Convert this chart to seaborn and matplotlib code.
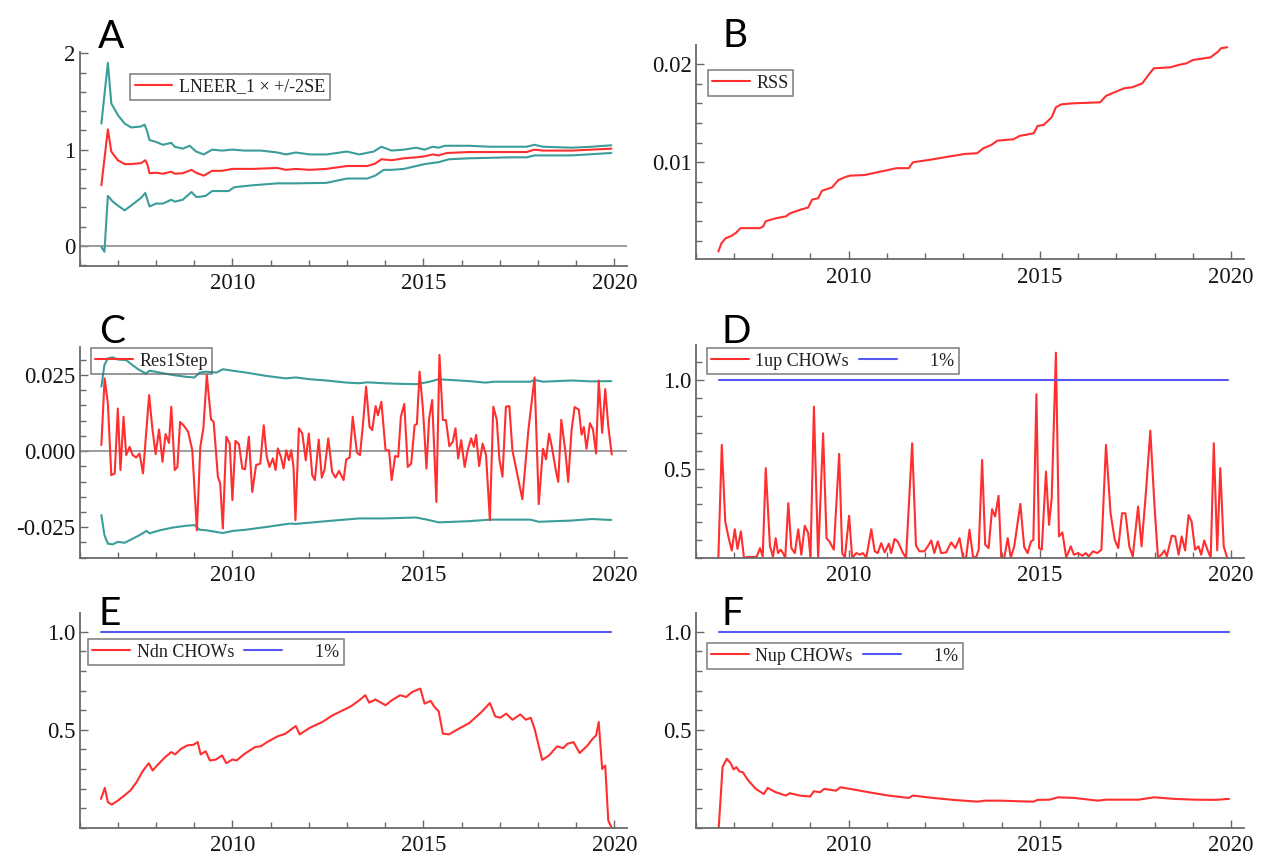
import matplotlib
matplotlib.use("Agg")
import matplotlib.pyplot as plt
from matplotlib.ticker import FixedLocator, MultipleLocator, FuncFormatter
import seaborn as sns

# ---------------------------------------------------------------- data
# (A) recursive coefficient of LNEER_1 with +/- 2 standard errors
a_coef = [(2006.57, 0.63), (2006.74, 1.21), (2006.83, 0.98), (2007.0, 0.89), (2007.18, 0.85),
          (2007.35, 0.85), (2007.61, 0.86), (2007.72, 0.89), (2007.78, 0.84), (2007.83, 0.755),
          (2008.0, 0.76), (2008.18, 0.75), (2008.4, 0.77), (2008.49, 0.75), (2008.7, 0.755),
          (2008.93, 0.79), (2009.05, 0.76), (2009.25, 0.73), (2009.47, 0.78), (2009.73, 0.78),
          (2010.0, 0.80), (2010.53, 0.80), (2011.18, 0.81), (2011.4, 0.79), (2011.66, 0.80),
          (2012.03, 0.79), (2012.46, 0.80), (2013.0, 0.83), (2013.53, 0.83), (2013.74, 0.855),
          (2013.9, 0.90), (2014.17, 0.89), (2014.49, 0.91), (2014.81, 0.92), (2015.03, 0.93),
          (2015.24, 0.95), (2015.4, 0.94), (2015.61, 0.965), (2016.2, 0.975), (2017.27, 0.975),
          (2017.7, 0.975), (2017.91, 1.0), (2018.13, 0.99), (2018.88, 0.99), (2019.92, 1.01)]
a_upper = [(2006.57, 1.27), (2006.74, 1.90), (2006.83, 1.48), (2007.0, 1.36), (2007.18, 1.27),
           (2007.35, 1.23), (2007.61, 1.24), (2007.7, 1.26), (2007.76, 1.20), (2007.83, 1.10),
           (2008.0, 1.08), (2008.18, 1.05), (2008.4, 1.07), (2008.49, 1.03), (2008.7, 1.01),
           (2008.88, 1.04), (2009.05, 0.98), (2009.25, 0.95), (2009.47, 1.00), (2009.73, 0.99),
           (2010.0, 1.00), (2010.32, 0.99), (2010.75, 0.99), (2011.18, 0.97), (2011.4, 0.95),
           (2011.66, 0.97), (2012.03, 0.95), (2012.46, 0.95), (2013.0, 0.98), (2013.32, 0.95),
           (2013.7, 0.98), (2013.9, 1.03), (2014.17, 0.99), (2014.49, 1.00), (2014.81, 1.02),
           (2015.03, 1.00), (2015.24, 1.03), (2015.4, 1.02), (2015.56, 1.04), (2016.2, 1.04),
           (2016.74, 1.03), (2017.27, 1.03), (2017.7, 1.03), (2017.91, 1.05), (2018.13, 1.03),
           (2018.88, 1.02), (2019.41, 1.03), (2019.92, 1.045)]
a_lower = [(2006.57, -0.01), (2006.65, -0.06), (2006.74, 0.52), (2006.87, 0.46), (2007.0, 0.42),
           (2007.18, 0.37), (2007.35, 0.42), (2007.61, 0.50), (2007.72, 0.55), (2007.83, 0.41),
           (2008.0, 0.44), (2008.18, 0.44), (2008.4, 0.48), (2008.49, 0.46), (2008.7, 0.48),
           (2008.93, 0.56), (2009.05, 0.51), (2009.14, 0.51), (2009.3, 0.52), (2009.47, 0.57),
           (2009.9, 0.57), (2010.05, 0.61), (2010.53, 0.63), (2011.18, 0.65), (2011.66, 0.65),
           (2012.46, 0.655), (2013.0, 0.70), (2013.53, 0.70), (2013.74, 0.73), (2013.96, 0.79),
           (2014.17, 0.79), (2014.49, 0.80), (2015.03, 0.85), (2015.4, 0.87), (2015.67, 0.90),
           (2016.2, 0.91), (2017.27, 0.92), (2017.7, 0.92), (2017.91, 0.94), (2018.88, 0.94),
           (2019.92, 0.965)]

# (B) recursive residual sum of squares
b_rss = [(2006.59, 0.00092), (2006.67, 0.00176), (2006.78, 0.00227), (2006.93, 0.0025),
         (2007.06, 0.00285), (2007.17, 0.0033), (2007.36, 0.0033), (2007.67, 0.0033),
         (2007.76, 0.00346), (2007.83, 0.0040), (2008.09, 0.0043), (2008.36, 0.0045),
         (2008.46, 0.0048), (2008.72, 0.00515), (2008.94, 0.0054), (2009.04, 0.0062),
         (2009.2, 0.00634), (2009.3, 0.0071), (2009.57, 0.00746), (2009.73, 0.0082),
         (2009.94, 0.00854), (2010.04, 0.00864), (2010.41, 0.0087), (2010.83, 0.00905),
         (2011.25, 0.0094), (2011.57, 0.0094), (2011.68, 0.0100), (2012.1, 0.01024),
         (2012.62, 0.01058), (2013.05, 0.01085), (2013.36, 0.01092), (2013.52, 0.01142),
         (2013.73, 0.01176), (2013.89, 0.0122), (2014.31, 0.01234), (2014.47, 0.01268),
         (2014.84, 0.01295), (2014.94, 0.0137), (2015.1, 0.0138), (2015.31, 0.01458),
         (2015.42, 0.0156), (2015.57, 0.0159), (2015.89, 0.0160), (2016.58, 0.0161),
         (2016.73, 0.01675), (2016.94, 0.0171), (2017.21, 0.01753), (2017.42, 0.01763),
         (2017.68, 0.01803), (2017.84, 0.01888), (2017.98, 0.01956), (2018.42, 0.01966),
         (2018.63, 0.0199), (2018.84, 0.02007), (2019.0, 0.0204), (2019.47, 0.02068),
         (2019.58, 0.02102), (2019.66, 0.02125), (2019.74, 0.0216), (2019.9, 0.0217)]

# (C) one-step residuals with +/- 2 standard error bands
c_res = [(2006.57, 0.002), (2006.655, 0.0239), (2006.74, 0.0157), (2006.83, -0.0079),
         (2006.92, -0.0073), (2007.0, 0.014), (2007.07, -0.0062), (2007.15, 0.0113),
         (2007.22, -0.0013), (2007.31, 0.0014), (2007.39, -0.0013), (2007.48, -0.0021),
         (2007.57, -0.0008), (2007.66, -0.0073), (2007.82, 0.0184), (2007.9, 0.008),
         (2007.99, -0.001), (2008.08, 0.0071), (2008.17, -0.0035), (2008.25, 0.0056),
         (2008.34, 0.0027), (2008.4, 0.0146), (2008.49, -0.0062), (2008.56, -0.0052),
         (2008.63, 0.0096), (2008.72, 0.0085), (2008.84, 0.0064), (2008.95, 0.0003),
         (2009.07, -0.026), (2009.16, 0.0014), (2009.24, 0.0075), (2009.33, 0.025),
         (2009.44, 0.0104), (2009.51, 0.0096), (2009.62, -0.0084), (2009.68, -0.0106),
         (2009.75, -0.0254), (2009.84, 0.0047), (2009.93, 0.0025), (2010.0, -0.0161),
         (2010.08, 0.0034), (2010.17, 0.0023), (2010.26, -0.0057), (2010.33, -0.006),
         (2010.43, 0.0047), (2010.52, -0.0134), (2010.62, -0.0046), (2010.73, -0.0041),
         (2010.82, 0.0085), (2010.9, -0.0019), (2010.97, -0.0052), (2011.06, -0.0024),
         (2011.13, -0.0062), (2011.19, 0.0009), (2011.27, -0.0019), (2011.34, -0.0057),
         (2011.41, 0.0003), (2011.48, -0.003), (2011.54, 0.0003), (2011.6, -0.0052),
         (2011.65, -0.0227), (2011.74, 0.0075), (2011.83, 0.0058), (2011.92, -0.003),
         (2012.0, 0.0058), (2012.09, -0.0079), (2012.16, -0.0095), (2012.26, 0.0038),
         (2012.34, -0.0087), (2012.41, -0.0062), (2012.51, 0.0042), (2012.61, -0.0068),
         (2012.7, -0.0087), (2012.79, -0.0065), (2012.91, -0.0095), (2012.98, -0.0027),
         (2013.07, -0.0021), (2013.15, 0.0113), (2013.26, -0.0005), (2013.34, -0.0013),
         (2013.42, 0.0091), (2013.5, 0.0212), (2013.59, 0.008), (2013.66, 0.0069),
         (2013.75, 0.0148), (2013.81, 0.0118), (2013.9, 0.0162), (2014.01, 0.0003),
         (2014.1, 0.0003), (2014.17, -0.0095), (2014.26, -0.0016), (2014.34, -0.0019),
         (2014.41, 0.0113), (2014.5, 0.0155), (2014.59, -0.0052), (2014.68, -0.0041),
         (2014.77, 0.0085), (2014.83, 0.0089), (2014.9, 0.0261), (2014.99, 0.0135),
         (2015.08, -0.0057), (2015.15, 0.0107), (2015.23, 0.0168), (2015.34, -0.0167),
         (2015.42, 0.0316), (2015.51, 0.0102), (2015.59, 0.0102), (2015.68, 0.0016),
         (2015.77, 0.0031), (2015.84, 0.0075), (2015.91, -0.0024), (2015.99, 0.0036),
         (2016.08, -0.0052), (2016.16, 0.0003), (2016.25, 0.0042), (2016.32, 0.0014),
         (2016.38, 0.0053), (2016.46, -0.0049), (2016.55, 0.0025), (2016.64, -0.0013),
         (2016.74, -0.0227), (2016.83, 0.0146), (2016.92, 0.0104), (2016.99, -0.0027),
         (2017.07, -0.0084), (2017.16, 0.0146), (2017.25, 0.0148), (2017.33, 0.0003),
         (2017.59, -0.0158), (2017.75, 0.0071), (2017.91, 0.0242), (2018.02, -0.0174),
         (2018.13, 0.0008), (2018.21, -0.0027), (2018.29, 0.0057), (2018.36, 0.0016),
         (2018.47, -0.0065), (2018.53, -0.0101), (2018.61, 0.0103), (2018.72, -0.0005),
         (2018.79, -0.0101), (2018.88, 0.0071), (2018.96, 0.0145), (2019.07, 0.0136),
         (2019.14, 0.0054), (2019.2, 0.0079), (2019.27, 0.0008), (2019.36, 0.0092),
         (2019.44, 0.0071), (2019.52, -0.0008), (2019.59, 0.0232), (2019.68, 0.006),
         (2019.76, 0.0204), (2019.84, 0.0082), (2019.93, -0.0011)]
c_upper = [(2006.57, 0.0212), (2006.65, 0.0283), (2006.74, 0.0305), (2006.87, 0.0308),
           (2007.0, 0.0301), (2007.22, 0.0299), (2007.35, 0.0286), (2007.53, 0.0269),
           (2007.73, 0.0255), (2007.83, 0.0264), (2008.1, 0.0258), (2008.44, 0.025),
           (2008.79, 0.0244), (2009.01, 0.0242), (2009.14, 0.0258), (2009.32, 0.0261),
           (2009.58, 0.0258), (2009.75, 0.0269), (2010.01, 0.0264), (2010.36, 0.0258),
           (2010.89, 0.0247), (2011.39, 0.0239), (2011.66, 0.0242), (2012.03, 0.0236),
           (2012.46, 0.0232), (2013.0, 0.0225), (2013.32, 0.0223), (2013.53, 0.0226),
           (2013.96, 0.0223), (2014.39, 0.0221), (2014.81, 0.022), (2015.13, 0.0227),
           (2015.4, 0.0236), (2015.67, 0.0234), (2016.2, 0.023), (2016.63, 0.0225),
           (2016.84, 0.0228), (2017.8, 0.0228), (2017.91, 0.0234), (2018.13, 0.0228),
           (2018.88, 0.0232), (2019.41, 0.0229), (2019.92, 0.023)]
c_lower = [(2006.57, -0.021), (2006.65, -0.0276), (2006.74, -0.0304), (2006.87, -0.0306),
           (2007.0, -0.0298), (2007.18, -0.0301), (2007.35, -0.029), (2007.57, -0.0276),
           (2007.75, -0.0262), (2007.83, -0.027), (2008.1, -0.026), (2008.44, -0.0251),
           (2008.79, -0.0245), (2009.01, -0.0243), (2009.14, -0.0258), (2009.32, -0.026),
           (2009.75, -0.0269), (2010.01, -0.0262), (2010.36, -0.0258), (2010.89, -0.0249),
           (2011.5, -0.0238), (2011.66, -0.0239), (2012.46, -0.023), (2013.32, -0.0221),
           (2013.96, -0.0221), (2014.81, -0.0218), (2015.13, -0.0226), (2015.4, -0.0234),
           (2016.2, -0.023), (2016.74, -0.0225), (2017.8, -0.0225), (2018.02, -0.0232),
           (2018.88, -0.0228), (2019.41, -0.0223), (2019.92, -0.0226)]

# (D) 1-step-ahead Chow tests, scaled by their 1% critical value
d_chow = [(2006.59, 0.0), (2006.68, 0.635), (2006.77, 0.204), (2006.85, 0.12), (2006.94, 0.04),
          (2007.02, 0.16), (2007.09, 0.05), (2007.18, 0.148), (2007.26, 0.0), (2007.35, 0.004),
          (2007.46, 0.004), (2007.59, 0.004), (2007.68, 0.054), (2007.75, 0.007), (2007.83, 0.504),
          (2007.94, 0.064), (2008.02, 0.007), (2008.09, 0.11), (2008.15, 0.026), (2008.22, 0.045),
          (2008.28, 0.026), (2008.34, 0.0), (2008.42, 0.307), (2008.5, 0.054), (2008.59, 0.026),
          (2008.68, 0.16), (2008.76, 0.017), (2008.85, 0.18), (2008.94, 0.139), (2009.0, 0.0),
          (2009.09, 0.85), (2009.2, 0.0), (2009.33, 0.70), (2009.42, 0.11), (2009.5, 0.09),
          (2009.61, 0.045), (2009.75, 0.584), (2009.83, 0.026), (2009.9, 0.0), (2010.01, 0.236),
          (2010.09, 0.0), (2010.2, 0.026), (2010.29, 0.017), (2010.37, 0.026), (2010.46, 0.0),
          (2010.59, 0.16), (2010.68, 0.036), (2010.76, 0.026), (2010.85, 0.082), (2010.94, 0.03),
          (2011.05, 0.079), (2011.11, 0.026), (2011.2, 0.105), (2011.28, 0.092), (2011.42, 0.026),
          (2011.5, 0.0), (2011.66, 0.644), (2011.76, 0.067), (2011.85, 0.036), (2011.98, 0.036),
          (2012.07, 0.064), (2012.16, 0.097), (2012.24, 0.026), (2012.33, 0.092), (2012.42, 0.026),
          (2012.55, 0.03), (2012.68, 0.086), (2012.79, 0.054), (2012.9, 0.11), (2012.99, 0.0),
          (2013.07, 0.0), (2013.16, 0.157), (2013.25, 0.007), (2013.33, 0.0), (2013.4, 0.045),
          (2013.49, 0.55), (2013.57, 0.073), (2013.66, 0.054), (2013.75, 0.273), (2013.83, 0.232),
          (2013.92, 0.348), (2013.99, 0.0), (2014.07, 0.0), (2014.16, 0.11), (2014.24, 0.0),
          (2014.33, 0.064), (2014.49, 0.303), (2014.59, 0.06), (2014.68, 0.026), (2014.77, 0.092),
          (2014.83, 0.1), (2014.91, 0.92), (2014.98, 0.054), (2015.05, 0.045), (2015.16, 0.485),
          (2015.24, 0.185), (2015.31, 0.335), (2015.42, 1.154), (2015.5, 0.12), (2015.59, 0.142),
          (2015.69, 0.0), (2015.81, 0.064), (2015.89, 0.017), (2016.0, 0.026), (2016.11, 0.011),
          (2016.2, 0.026), (2016.28, 0.007), (2016.39, 0.036), (2016.5, 0.026), (2016.61, 0.045),
          (2016.73, 0.635), (2016.85, 0.25), (2016.96, 0.1), (2017.05, 0.054), (2017.15, 0.25),
          (2017.24, 0.25), (2017.34, 0.064), (2017.43, 0.007), (2017.57, 0.288), (2017.66, 0.064),
          (2017.78, 0.382), (2017.89, 0.715), (2018.0, 0.288), (2018.09, 0.0), (2018.18, 0.017),
          (2018.26, 0.041), (2018.32, 0.007), (2018.45, 0.124), (2018.54, 0.12), (2018.63, 0.017),
          (2018.71, 0.12), (2018.8, 0.041), (2018.89, 0.24), (2018.97, 0.204), (2019.06, 0.045),
          (2019.15, 0.064), (2019.22, 0.017), (2019.3, 0.097), (2019.39, 0.041), (2019.47, 0.0),
          (2019.55, 0.644), (2019.64, 0.041), (2019.72, 0.504), (2019.81, 0.064), (2019.9, 0.0)]

# (E) break-point (N-down) Chow tests
e_chow = [(2006.56, 0.147), (2006.66, 0.203), (2006.74, 0.13), (2006.84, 0.118), (2007.0, 0.138),
          (2007.11, 0.155), (2007.22, 0.172), (2007.33, 0.19), (2007.49, 0.232), (2007.65, 0.288),
          (2007.81, 0.329), (2007.91, 0.292), (2008.07, 0.326), (2008.24, 0.36), (2008.4, 0.386),
          (2008.5, 0.374), (2008.66, 0.403), (2008.82, 0.42), (2008.98, 0.423), (2009.09, 0.437),
          (2009.17, 0.374), (2009.3, 0.39), (2009.41, 0.343), (2009.57, 0.348), (2009.73, 0.369),
          (2009.84, 0.329), (2010.0, 0.348), (2010.11, 0.343), (2010.32, 0.377), (2010.59, 0.411),
          (2010.75, 0.416), (2010.91, 0.437), (2011.18, 0.466), (2011.39, 0.48), (2011.66, 0.519),
          (2011.76, 0.476), (2012.03, 0.51), (2012.35, 0.539), (2012.62, 0.573), (2012.89, 0.599),
          (2013.1, 0.619), (2013.32, 0.65), (2013.48, 0.676), (2013.58, 0.638), (2013.74, 0.654),
          (2014.01, 0.625), (2014.17, 0.65), (2014.39, 0.676), (2014.55, 0.667), (2014.71, 0.693),
          (2014.92, 0.71), (2015.03, 0.633), (2015.19, 0.647), (2015.29, 0.616), (2015.4, 0.594),
          (2015.51, 0.48), (2015.67, 0.476), (2015.88, 0.5), (2016.2, 0.534), (2016.52, 0.59),
          (2016.74, 0.636), (2016.88, 0.568), (2017.01, 0.561), (2017.17, 0.582), (2017.33, 0.551),
          (2017.54, 0.578), (2017.68, 0.551), (2017.81, 0.561), (2017.91, 0.505), (2018.11, 0.346),
          (2018.29, 0.369), (2018.5, 0.415), (2018.66, 0.406), (2018.77, 0.428), (2018.93, 0.437),
          (2019.09, 0.381), (2019.3, 0.42), (2019.41, 0.449), (2019.52, 0.471), (2019.59, 0.539),
          (2019.68, 0.3), (2019.76, 0.317), (2019.84, 0.036), (2019.93, 0.0)]

# (F) forecast (N-up) Chow tests
f_chow = [(2006.6, 0.0), (2006.7, 0.309), (2006.81, 0.352), (2006.91, 0.329), (2006.99, 0.297),
          (2007.06, 0.309), (2007.14, 0.287), (2007.23, 0.283), (2007.36, 0.244), (2007.57, 0.198),
          (2007.78, 0.172), (2007.88, 0.203), (2008.09, 0.181), (2008.36, 0.164), (2008.46, 0.176),
          (2008.72, 0.164), (2008.99, 0.159), (2009.09, 0.186), (2009.25, 0.181), (2009.36, 0.198),
          (2009.67, 0.189), (2009.78, 0.206), (2010.04, 0.198), (2010.52, 0.181), (2011.04, 0.164),
          (2011.57, 0.152), (2011.68, 0.164), (2012.2, 0.152), (2012.73, 0.142), (2013.36, 0.133),
          (2013.57, 0.138), (2013.99, 0.138), (2014.42, 0.135), (2014.84, 0.133), (2014.94, 0.142),
          (2015.26, 0.143), (2015.47, 0.155), (2015.89, 0.152), (2016.52, 0.138), (2016.73, 0.143),
          (2017.58, 0.143), (2017.99, 0.155), (2018.52, 0.147), (2019.05, 0.143), (2019.58, 0.142),
          (2019.95, 0.147)]

# 1% critical value line (tests are scaled so that it sits at 1)
crit_d = [(2006.6, 1.0), (2019.92, 1.0)]
crit_e = [(2006.57, 1.0), (2019.92, 1.0)]
crit_f = [(2006.6, 1.0), (2019.95, 1.0)]

x_major = [2010, 2015, 2020]

# ---------------------------------------------------------------- style
RED = "#ff2f2f"
TEAL = "#3b9d99"
BLUE = "#5757f3"
AXC = "#6a6a6a"
LW = 1.5

sns.set_theme(style="white")
plt.rcParams["font.family"] = ["Liberation Serif", "DejaVu Serif"]
plt.rcParams["axes.unicode_minus"] = False

W, H = 1263, 857
fig = plt.figure(figsize=(W / 100, H / 100), dpi=100)


def rect(l, t, r, b):
    return [l / W, 1 - b / H, (r - l) / W, (b - t) / H]


def line(ax, pts, color, label=None):
    xs, ys = zip(*pts)
    sns.lineplot(x=list(xs), y=list(ys), ax=ax, color=color, linewidth=LW,
                 estimator=None, sort=False, legend=False)
    ln = ax.lines[-1]
    if label is not None:
        ln.set_label(label)
    return ln


def style_axes(ax, ylim, yticks, fmt, yminor):
    ax.set_xlim(2006.0, 2020.33)
    ax.set_ylim(*ylim)
    for s in ("top", "right"):
        ax.spines[s].set_visible(False)
    for s in ("left", "bottom"):
        ax.spines[s].set_color(AXC)
        ax.spines[s].set_linewidth(1.3)
    ax.xaxis.set_major_locator(FixedLocator(x_major))
    ax.xaxis.set_minor_locator(MultipleLocator(1))
    ax.yaxis.set_major_locator(FixedLocator(yticks))
    ax.yaxis.set_minor_locator(MultipleLocator(yminor))
    ax.yaxis.set_major_formatter(FuncFormatter(lambda v, p: fmt % v))
    ax.xaxis.set_major_formatter(FuncFormatter(lambda v, p: "%d" % v))
    ax.tick_params(which="both", direction="in", color=AXC, width=1.0,
                   labelsize=16.5, labelcolor="#151515")
    ax.tick_params(which="major", length=6)
    ax.tick_params(which="minor", length=4.5)
    ax.tick_params(axis="x", which="both", pad=5.5, bottom=True, left=False)
    ax.tick_params(axis="y", which="both", pad=3, left=True, bottom=False)
    ax.set_xlabel("")
    ax.set_ylabel("")
    ax.grid(False)


def legend(ax, handles, x, y, ncol=1):
    leg = ax.legend(handles=handles, loc="upper left", ncol=ncol,
                    bbox_to_anchor=(x / W, 1 - y / H), bbox_transform=fig.transFigure,
                    borderaxespad=0, frameon=True, fancybox=False, fontsize=13,
                    handlelength=2.1, handletextpad=0.35, columnspacing=0.55,
                    borderpad=0.25, labelspacing=0.2)
    fr = leg.get_frame()
    fr.set_facecolor("none")
    fr.set_edgecolor("#5a5a5a")
    fr.set_linewidth(1.1)
    for t in leg.get_texts():
        t.set_color("#202020")
    return leg


def letter(s, x, baseline):
    fig.text(x / W, 1 - baseline / H, s, fontsize=28, family=["Lato", "DejaVu Sans"],
             ha="left", va="baseline", color="black")


# ---- A
axA = fig.add_axes(rect(79.6, 52, 627, 265.7))
axA.axhline(0, color="#8c8c8c", lw=1.2, zorder=1)
line(axA, a_upper, TEAL)
line(axA, a_lower, TEAL)
lA = line(axA, a_coef, RED, "LNEER_1 \u00d7 +/-2SE")
style_axes(axA, (-0.2045, 2.013), [0, 1, 2], "%d", 0.2)
legend(axA, [lA], 130, 74)
letter("A", 98, 47.5)

# ---- B
axB = fig.add_axes(rect(695.8, 45, 1243.6, 259))
lB = line(axB, b_rss, RED, "RSS")
style_axes(axB, (0.00016, 0.02193), [0.01, 0.02], "%.2f", 0.002)
legend(axB, [lB], 707.5, 70)
letter("B", 722, 47)

# ---- C
axC = fig.add_axes(rect(79.6, 346.7, 627, 557.7))
axC.axhline(0, color="#8c8c8c", lw=1.2, zorder=1)
line(axC, c_upper, TEAL)
line(axC, c_lower, TEAL)
lC = line(axC, c_res, RED, "Res1Step")
style_axes(axC, (-0.035, 0.0343), [-0.025, 0.0, 0.025], "%.3f", 0.005)
legend(axC, [lC], 90.6, 348)
letter("C", 99, 343)

# ---- D
axD = fig.add_axes(rect(695.8, 345, 1243.6, 557.7))
lD = line(axD, d_chow, RED, "1up CHOWs")
cD = line(axD, crit_d, BLUE, "      1%")
style_axes(axD, (0.0, 1.197), [0.5, 1.0], "%.1f", 0.1)
legend(axD, [lD, cD], 706.7, 348, ncol=2)
letter("D", 721, 343)

# ---- E
axE = fig.add_axes(rect(79.6, 613.3, 627, 827.7))
lE = line(axE, e_chow, RED, "Ndn CHOWs")
cE = line(axE, crit_e, BLUE, "      1%")
style_axes(axE, (0.0, 1.094), [0.5, 1.0], "%.1f", 0.1)
legend(axE, [lE, cE], 87.8, 639, ncol=2)
letter("E", 99, 625)

# ---- F
axF = fig.add_axes(rect(695.8, 613.3, 1243.6, 827.7))
lF = line(axF, f_chow, RED, "Nup CHOWs")
cF = line(axF, crit_f, BLUE, "      1%")
style_axes(axF, (0.0, 1.094), [0.5, 1.0], "%.1f", 0.1)
legend(axF, [lF, cF], 706.7, 643, ncol=2)
letter("F", 721, 625)

fig.savefig("out.png", dpi=100, facecolor="white")
